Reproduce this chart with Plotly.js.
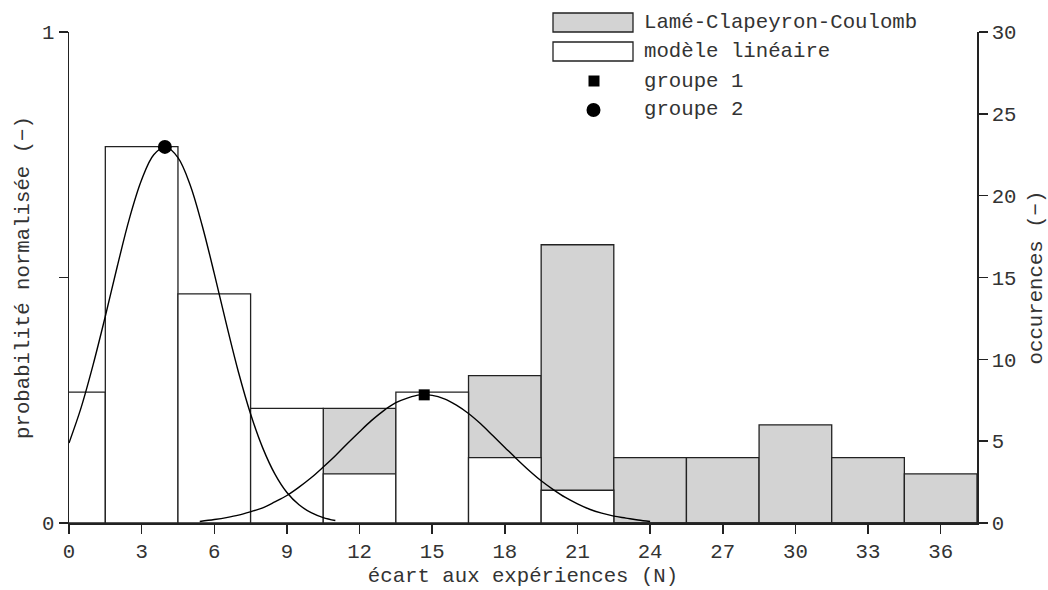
<!DOCTYPE html>
<html>
<head>
<meta charset="utf-8">
<script src="https://cdn.plot.ly/plotly-3.0.1.min.js"></script>
<style>html,body{margin:0;padding:0;background:#fff;}#chart{width:1048px;height:590px;}</style>
</head>
<body>
<div id="chart"></div>
<script>
// Histogram bins (centres, N)
const binCentres = [0, 3, 6, 9, 12, 15, 18, 21, 24, 27, 30, 33, 36];
// Occurrences — Lamé-Clapeyron-Coulomb (hidden where under white bars)
const lccCounts = [0, 0, 0, 0, 7, 0, 9, 17, 4, 4, 6, 4, 3];
// Occurrences — modèle linéaire
const linCounts = [8, 23, 14, 7, 3, 8, 4, 2, 0, 0, 0, 0, 0];

// Normalised probability curve, groupe 2
const curve2X = [0, 0.5, 1, 1.5, 2, 2.5, 3, 3.5, 4, 4.5, 5, 5.5, 6, 6.5, 7, 7.5, 8, 8.5, 9, 9.5, 10, 10.5, 11];
const curve2Y = [0.163, 0.235, 0.323, 0.421, 0.524, 0.621, 0.699, 0.750, 0.766, 0.744, 0.689, 0.606, 0.508, 0.405, 0.307, 0.222, 0.153, 0.100, 0.062, 0.037, 0.021, 0.011, 0.005];
// Normalised probability curve, groupe 1
const curve1X = [5.4, 6, 6.5, 7, 7.5, 8, 8.5, 9, 9.5, 10, 10.5, 11, 11.5, 12, 12.5, 13, 13.5, 14, 14.5, 15, 15.5, 16, 16.5, 17, 17.5, 18, 18.5, 19, 19.5, 20, 20.5, 21, 21.5, 22, 22.5, 23, 23.5, 24];
const curve1Y = [0.003, 0.007, 0.011, 0.016, 0.023, 0.031, 0.043, 0.056, 0.073, 0.092, 0.114, 0.137, 0.162, 0.186, 0.209, 0.229, 0.245, 0.255, 0.261, 0.260, 0.253, 0.240, 0.223, 0.202, 0.178, 0.154, 0.130, 0.107, 0.086, 0.068, 0.052, 0.039, 0.028, 0.020, 0.014, 0.010, 0.006, 0.003];

// Group peak points
const group1Pt = {x: [14.67], y: [0.261]};
const group2Pt = {x: [3.96], y: [0.766]};

const legendLabels = ['Lamé-Clapeyron-Coulomb', 'modèle linéaire', 'groupe 1', 'groupe 2'];

const FONT = '"Courier New", "Liberation Mono", monospace';
const FS = 20.7;
const TXT = '#333';
const AX = '#222';

const traces = [
  {type: 'bar', x: binCentres, y: lccCounts, width: 3, yaxis: 'y', name: legendLabels[0],
   marker: {color: '#d3d3d3', line: {color: AX, width: 1.3}}, hoverinfo: 'skip', showlegend: false},
  {type: 'bar', x: binCentres, y: linCounts, width: 3, yaxis: 'y', name: legendLabels[1],
   marker: {color: '#ffffff', line: {color: AX, width: 1.3}}, hoverinfo: 'skip', showlegend: false},
  {type: 'scatter', mode: 'lines', x: curve2X, y: curve2Y, yaxis: 'y2', line: {color: '#000', width: 1.4, shape: 'spline'}, showlegend: false},
  {type: 'scatter', mode: 'lines', x: curve1X, y: curve1Y, yaxis: 'y2', line: {color: '#000', width: 1.4, shape: 'spline'}, showlegend: false},
  {type: 'scatter', mode: 'markers', x: group1Pt.x, y: group1Pt.y, yaxis: 'y2', name: legendLabels[2],
   marker: {symbol: 'square', size: 11, color: '#000'}, showlegend: false},
  {type: 'scatter', mode: 'markers', x: group2Pt.x, y: group2Pt.y, yaxis: 'y2', name: legendLabels[3],
   marker: {symbol: 'circle', size: 14, color: '#000'}, showlegend: false}
];

// Custom legend (paper coordinates derived from pixel layout)
const L = 69, R = 977, T = 32, B = 523;
const px = v => (v - L) / (R - L);
const py = v => (B - v) / (B - T);
const rowY = [22.5, 51.5, 81, 110];
const shapes = [
  {type: 'rect', xref: 'paper', yref: 'paper', x0: px(553), x1: px(633), y0: py(rowY[0] + 9.5), y1: py(rowY[0] - 9.5),
   fillcolor: '#d3d3d3', line: {color: AX, width: 1.3}},
  {type: 'rect', xref: 'paper', yref: 'paper', x0: px(553), x1: px(633), y0: py(rowY[1] + 9.5), y1: py(rowY[1] - 9.5),
   fillcolor: '#ffffff', line: {color: AX, width: 1.3}},
  {type: 'rect', xref: 'paper', yref: 'paper', x0: px(588.5), x1: px(599.5), y0: py(rowY[2] + 5.5), y1: py(rowY[2] - 5.5),
   fillcolor: '#000', line: {width: 0}},
  {type: 'circle', xref: 'paper', yref: 'paper', x0: px(586.5), x1: px(600.5), y0: py(rowY[3] + 7), y1: py(rowY[3] - 7),
   fillcolor: '#000', line: {width: 0}}
];
const annotations = legendLabels.map((t, i) => ({
  text: t, xref: 'paper', yref: 'paper', x: px(642), y: py(rowY[i]), xanchor: 'left', yanchor: 'middle',
  showarrow: false, font: {family: FONT, size: FS, color: TXT}
}));

const axisCommon = {
  showgrid: false, zeroline: false, showline: true, linecolor: AX, linewidth: 1.5,
  ticks: 'outside', ticklen: 9, tickwidth: 1.5, tickcolor: AX,
  tickfont: {family: FONT, size: FS, color: TXT}, automargin: false
};

const layout = {
  width: 1048, height: 590,
  margin: {l: L, r: 1048 - R, t: T, b: 590 - B},
  paper_bgcolor: '#fff', plot_bgcolor: '#fff',
  barmode: 'overlay', bargap: 0,
  showlegend: false,
  font: {family: FONT, size: FS, color: TXT},
  xaxis: Object.assign({}, axisCommon, {
    range: [0, 37.5], tickvals: [0, 3, 6, 9, 12, 15, 18, 21, 24, 27, 30, 33, 36],
    title: {text: 'écart aux expériences (N)', font: {family: FONT, size: FS, color: TXT}, standoff: 4}
  }),
  // occurrences axis (right) is the base axis so curves overlay the bars
  yaxis: Object.assign({}, axisCommon, {
    range: [0, 30], tickvals: [0, 5, 10, 15, 20, 25, 30], side: 'right',
    title: {text: 'occurences (−)', font: {family: FONT, size: FS, color: TXT}, standoff: 16}
  }),
  yaxis2: Object.assign({}, axisCommon, {
    range: [0, 1], tickvals: [0, 0.5, 1], ticktext: ['0', '', '1'], overlaying: 'y', side: 'left',
    title: {text: 'probabilité normalisée (−)', font: {family: FONT, size: FS, color: TXT}, standoff: 6}
  }),
  shapes: shapes,
  annotations: annotations
};

Plotly.newPlot('chart', traces, layout, {displayModeBar: false, staticPlot: true});
</script>
</body>
</html>
